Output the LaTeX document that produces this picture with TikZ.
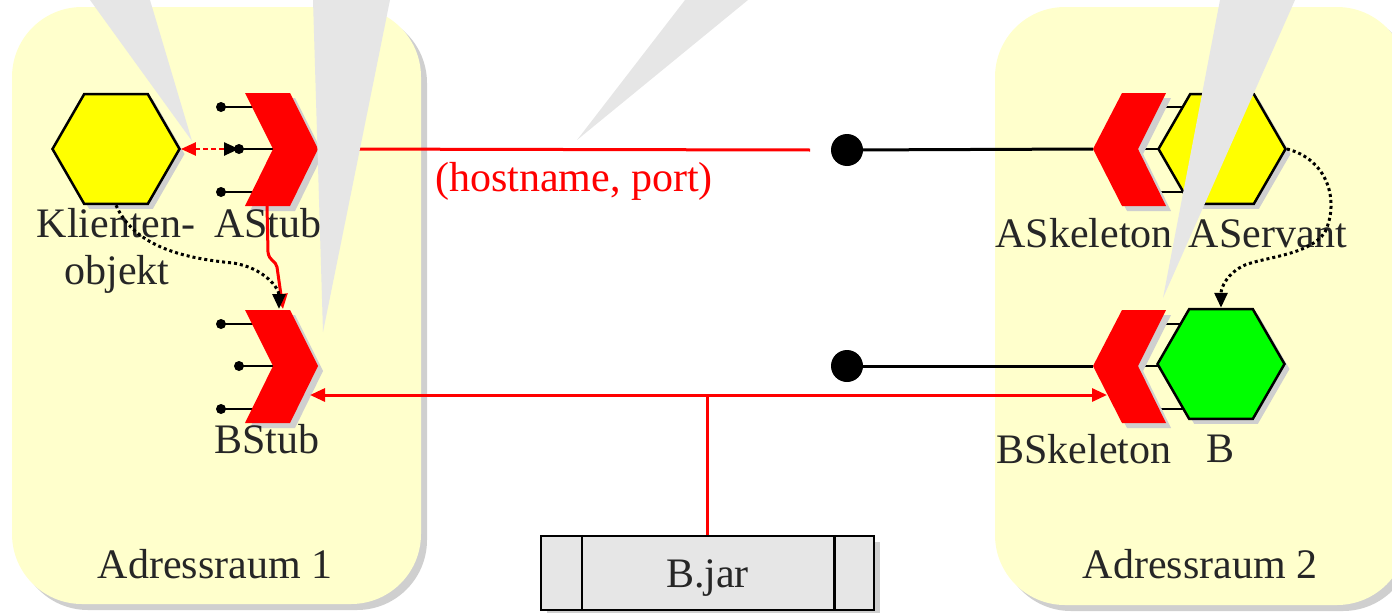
\documentclass[tikz,border=0pt]{standalone}
\usepackage{fontspec}
\setmainfont{Liberation Serif}
\usetikzlibrary{arrows.meta,shapes.geometric,shadows}
\definecolor{boxc}{HTML}{FFFFCC}
\definecolor{shadowc}{HTML}{CFCFCF}
\definecolor{callc}{HTML}{E6E6E6}
\definecolor{textc}{HTML}{262626}
\definecolor{hexy}{HTML}{FFFF00}
\definecolor{hexg}{HTML}{00FF00}
\definecolor{redc}{HTML}{FF0000}
\begin{document}
\begin{tikzpicture}[x=1pt,y=-1pt,
  lbl/.style={text=textc,font=\fontsize{42}{47}\selectfont,inner sep=0pt,anchor=base},
  region/.style={fill=boxc,rounded corners=70pt},
  regshadow/.style={fill=shadowc,rounded corners=70pt},
  hexa/.style={regular polygon,regular polygon sides=6,minimum size=127pt,inner sep=0pt,
    draw=black,line width=2.5pt,
    drop shadow={shadow xshift=5pt,shadow yshift=-5pt,fill=shadowc,opacity=1}},
  blk/.style={draw=black,line width=3pt},
  rd/.style={draw=redc,line width=3pt},
  dotline/.style={draw=black,line width=3pt,dash pattern=on 3pt off 3pt},
  port/.style={draw=black,line width=2.5pt},
  bigdot/.style={circle,fill=black,inner sep=0pt,minimum size=32pt},
  callout/.style={fill=callc},
  chevR/.pic={
    \draw[port] (-52,-42) -- (-10,-42);
    \draw[port] (-34,0) -- (0,0);
    \draw[port] (-52,43) -- (-10,43);
    \fill[black] (-52,-42) circle (5);
    \fill[black] (-34,0) circle (5);
    \fill[black] (-52,43) circle (5);
    \fill[shadowc,shift={(5,5)}] (-28,-56) -- (17,-56) -- (45,0) -- (17,57) -- (-28,57) -- (0,0) -- cycle;
    \fill[redc] (-28,-56) -- (17,-56) -- (45,0) -- (17,57) -- (-28,57) -- (0,0) -- cycle;
    \coordinate (-tip) at (45,0);
    \coordinate (-port) at (-34,0);
    \coordinate (-top) at (10,-57);
    \coordinate (-bot) at (-6,57);
    \coordinate (-lowright) at (37,29);
  },
  chevL/.pic={
    \draw[port] (15,-42) -- (50,-42);
    \draw[port] (0,0) -- (26,0);
    \draw[port] (15,43) -- (50,43);
    \fill[shadowc,shift={(5,5)}] (-16,-56) -- (28,-56) -- (0,0) -- (28,57) -- (-16,57) -- (-45,0) -- cycle;
    \fill[redc] (-16,-56) -- (28,-56) -- (0,0) -- (28,57) -- (-16,57) -- (-45,0) -- cycle;
    \coordinate (-tip) at (-45,0);
    \coordinate (-lowleft) at (-31,29);
  },
  >={Triangle[length=15pt,width=13pt]}
]
\useasboundingbox (0,0) rectangle (1392,613);

% address spaces
\fill[regshadow] (18,13) rectangle (427,610);
\fill[region] (12,7) rectangle (421,604);
\fill[regshadow] (1001,13) rectangle (1413,611);
\fill[region] (995,7) rectangle (1407,605);

% stubs and skeletons
\pic (astub) at (273,149) {chevR};
\pic (bstub) at (273,366) {chevR};
\pic (askel) at (1138,149) {chevL};
\pic (bskel) at (1138,366) {chevL};

% objects
\node[hexa,fill=hexy] (klient) at (116,149) {};
\node[hexa,fill=hexy] (aservant) at (1222,149) {};
\node[hexa,fill=hexg] (bobj) at (1221,364) {};

% jar
\node[draw=black,line width=2.5pt,fill=callc,minimum width=333pt,minimum height=74pt,
  inner sep=0pt,text height=32pt,text depth=4pt,
  drop shadow={shadow xshift=6pt,shadow yshift=-6pt,fill=shadowc,opacity=1},
  text=textc,font=\fontsize{42}{47}\selectfont] (jar) at (707.5,573) {B.jar};
\draw[port] ([xshift=42pt]jar.north west) -- ([xshift=42pt]jar.south west);
\draw[port] ([xshift=-41pt]jar.north east) -- ([xshift=-41pt]jar.south east);

% labels
\node[lbl] (kl1) at (116,237) {Klienten-};
\node[lbl] (kl2) at (117,284) {objekt};
\node[lbl] (astubl) at (268,237) {AStub};
\node[lbl] (bstubl) at (267,453) {BStub};
\node[lbl] (ar1) at (215,578) {Adressraum 1};
\node[lbl] (askl) at (1084,247) {ASkeleton};
\node[lbl] (aservl) at (1268,247) {AServant};
\node[lbl] (bskl) at (1084,463) {BSkeleton};
\node[lbl] (bl) at (1220,462) {B};
\node[lbl] (ar2) at (1200,578) {Adressraum 2};
\node[lbl,text=redc,anchor=base west] (hp) at (435,191) {(hostname, port)};

% dots
\node[bigdot] (d1) at (847,150) {};
\node[bigdot] (d2) at (847,366) {};
\coordinate (rend) at (810,150);

% connectors
\draw[draw=redc,line width=2.5pt,dash pattern=on 5pt off 3pt,
  {Triangle[length=15pt,width=13pt,color=redc]}-{Triangle[length=15pt,width=13pt,color=black]}]
  (klient.east) -- (astub-port);
\draw[rd] (astub-tip) -- (rend);
\draw[blk] (d1) -- (askel-tip);
\draw[blk] (d2) -- (bskel-tip);
\draw[rd,->] (astub-bot) -- ++(1,46) .. controls +(1,9) and +(-1,-6) .. ++(9,15) -- (bstub-top);
\draw[dotline,->] (klient.south) .. controls +(18,40) and +(-53,-5) .. (233,263)
  .. controls +(32,5) and +(0,-20) .. ([xshift=-4pt]bstub-top);
\draw[dotline,->] (aservant.east) .. controls +(40,10) and +(15,-32) .. (1325,232)
  .. controls +(-15,23) and +(20,-8) .. (1245,265)
  .. controls +(-18,8) and +(0,-20) .. (bobj.north);
\draw[rd,<->] (bstub-lowright) -- (bskel-lowleft);
\draw[rd] (jar.north) -- (jar.north |- bstub-lowright);

% callouts
\fill[callout] (90,0) -- (150,0) -- (192,141) -- cycle;
\fill[callout] (313,0) -- (390,0) -- (323,332) -- cycle;
\fill[callout] (685,0) -- (748,0) -- (577,140) -- cycle;
\fill[callout] (1220,0) -- (1295,0) -- (1163,298) -- cycle;
\end{tikzpicture}
\end{document}
